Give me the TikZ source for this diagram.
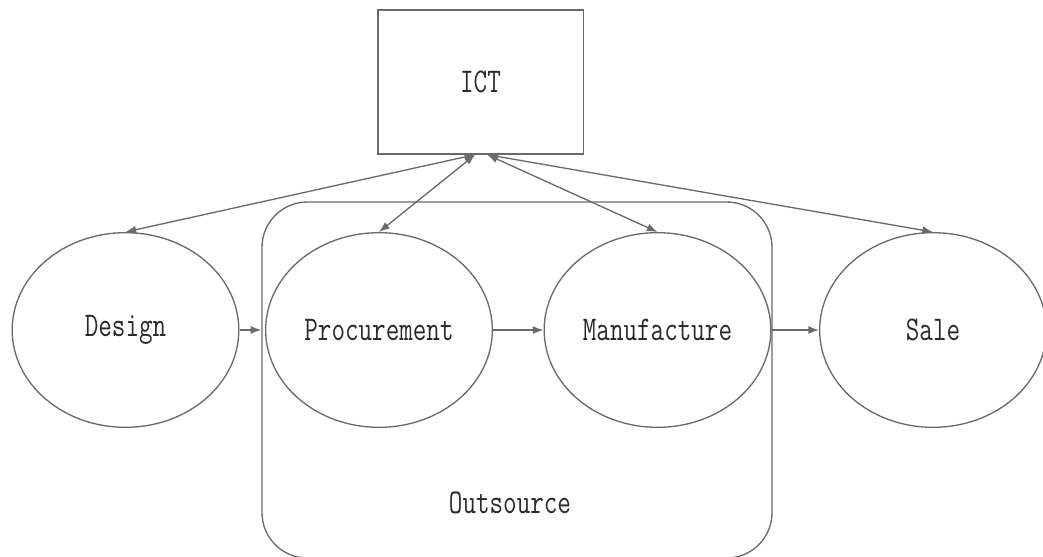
\documentclass[tikz,border=0pt]{standalone}
\usepackage{fontspec}
\newfontfamily\diagfont[FakeStretch=0.76]{Latin Modern Mono}
\usetikzlibrary{arrows.meta,shapes.geometric}
\definecolor{linegray}{HTML}{6A6A6A}
\definecolor{textgray}{HTML}{2A2A2A}
\tikzset{
  stage/.style={draw=linegray,line width=1pt,ellipse,inner sep=0pt,
    minimum width=170pt,minimum height=146pt,text=textgray,font=\diagfont\fontsize{26}{28}\selectfont},
  flow/.style={draw=linegray,line width=1pt,-{Latex[length=8pt,width=6pt]}},
  link/.style={draw=linegray,line width=1pt,{Latex[length=8pt,width=6pt]}-{Latex[length=8pt,width=6pt]}}
}
\begin{document}
\begin{tikzpicture}[x=0.75pt,y=-0.75pt]
\useasboundingbox (0,0) rectangle (1043,557);

% Outsource frame
\node[draw=linegray,line width=1pt,rounded corners=34pt,minimum width=382.5pt,minimum height=267pt,inner sep=0pt] (outsrc) at (517,380) {};
\node[text=textgray,font=\diagfont\fontsize{26}{28}\selectfont] (outlabel) at (510,503) {Outsource};

% ICT box
\node[draw=linegray,line width=1pt,minimum width=154pt,minimum height=108pt,inner sep=0pt,text=textgray,font=\diagfont\fontsize{26}{28}\selectfont] (ict) at (480.5,82) {ICT};
\coordinate (ictl) at ([xshift=-4pt]ict.south);
\coordinate (ictr) at ([xshift=5pt]ict.south);

% Stages
\node[stage] (design) at (125.5,330) {Design};
\node[stage] (procure) at (379,330) {Procurement};
\node[stage] (manuf) at (657.5,330) {Manufacture};
\node[stage] (sale) at (933,330) {Sale};

% Links to ICT
\foreach \s/\c in {design/ictl,procure/ictl,manuf/ictr,sale/ictr} {
  \draw[link] (\c) -- (\s.north);
}

% Process flow
\draw[flow] (design.east) -- (design.east -| outsrc.west);
\draw[flow] (procure) -- (manuf);
\draw[flow] (manuf) -- (sale);
\end{tikzpicture}
\end{document}
